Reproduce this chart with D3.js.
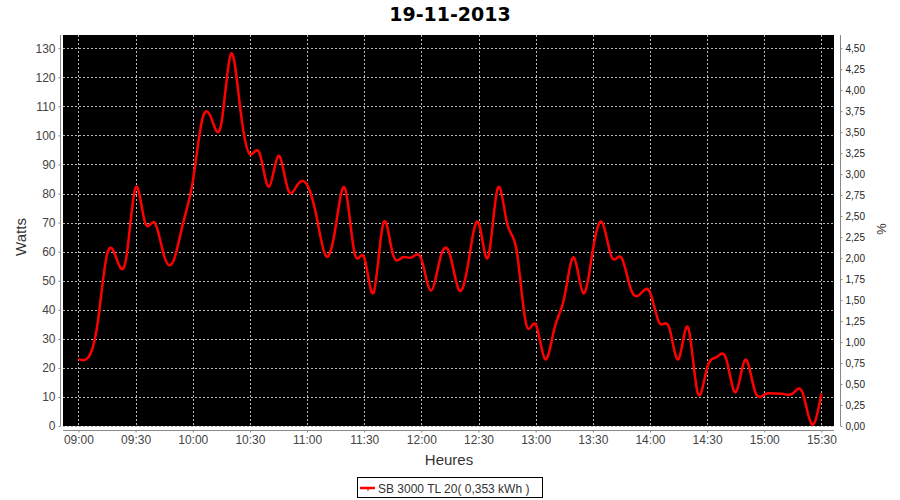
<!DOCTYPE html>
<html>
<head>
<meta charset="utf-8">
<script src="https://cdn.jsdelivr.net/npm/d3@7/dist/d3.min.js"></script>
<style>
  html, body { margin: 0; padding: 0; background: #ffffff; }
  svg { display: block; }
</style>
</head>
<body>
<svg id="chart" width="900" height="500"></svg>
<script>
// ---------- data ----------
const title = "19-11-2013";
const seriesName = "SB 3000 TL 20( 0,353 kWh )";
const xLabel = "Heures";
const yLabel = "Watts";
const y2Label = "%";

const times = [
  "09:00","09:05","09:10","09:15","09:20","09:25","09:30","09:35","09:40","09:45","09:50","09:55",
  "10:00","10:05","10:10","10:15","10:20","10:25","10:30","10:35","10:40","10:45","10:50","10:55",
  "11:00","11:05","11:10","11:15","11:20","11:25","11:30","11:35","11:40","11:45","11:50","11:55",
  "12:00","12:05","12:10","12:15","12:20","12:25","12:30","12:35","12:40","12:45","12:50","12:55",
  "13:00","13:05","13:10","13:15","13:20","13:25","13:30","13:35","13:40","13:45","13:50","13:55",
  "14:00","14:05","14:10","14:15","14:20","14:25","14:30","14:35","14:40","14:45","14:50","14:55",
  "15:00","15:05","15:10","15:15","15:20","15:25","15:30"
];
const watts = [
  23, 23.5, 35, 59, 57.6, 57.5, 82, 70, 70, 58.5, 57, 70,
  84, 105.5, 105.5, 104, 128, 109, 93.5, 94, 82.3, 93, 81.4, 83,
  83, 72, 58.4, 68.5, 81.7, 59.3, 58, 46, 69.7, 59.3, 58, 58,
  57.5, 46.6, 58, 59, 46.6, 57.6, 70, 58, 81.7, 69.7, 60.4, 35,
  35, 23, 34, 44, 58, 45.7, 60.4, 70, 58, 58, 47, 45.5,
  46, 35.4, 34, 23, 34, 11.5, 20, 23.7, 23.1, 11.6, 22.8, 12.2,
  10.8, 11.2, 11, 11.2, 11.6, 0.5, 11.2
];
const xTickLabels = ["09:00","09:30","10:00","10:30","11:00","11:30","12:00","12:30","13:00","13:30","14:00","14:30","15:00","15:30"];
const yTicks = [0,10,20,30,40,50,60,70,80,90,100,110,120,130];
const y2Ticks = [0,0.25,0.5,0.75,1,1.25,1.5,1.75,2,2.25,2.5,2.75,3,3.25,3.5,3.75,4,4.25,4.5];

// ---------- layout ----------
const plot = { left: 63, right: 834, top: 35, bottom: 426 };
const leftAxisX = 60, rightAxisX = 840, bottomAxisY = 430;
const toMin = s => { const [h, m] = s.split(":").map(Number); return h * 60 + m - 540; };

const x = d3.scaleLinear().domain([-8.1, 396.6]).range([plot.left, plot.right]);
const y = d3.scaleLinear().domain([0, 134.55]).range([plot.bottom, plot.top]);
const y2 = d3.scaleLinear().domain([0, 134.55 * 4.5 / 130]).range([plot.bottom, plot.top]);

const svg = d3.select("#chart");
const font = "'Liberation Sans', Arial, sans-serif";
const tickColor = "#444444";
const axisColor = "#888888";

// plot background
svg.append("rect")
  .attr("x", plot.left).attr("y", plot.top)
  .attr("width", plot.right - plot.left).attr("height", plot.bottom - plot.top)
  .attr("fill", "#000000");

// grid lines
const grid = svg.append("g").attr("stroke", "#b8b8b8").attr("stroke-width", 1)
  .attr("stroke-dasharray", "2,2").attr("shape-rendering", "crispEdges");
grid.selectAll("line.v").data(xTickLabels).enter().append("line")
  .attr("x1", d => Math.round(x(toMin(d))) + 0.5).attr("x2", d => Math.round(x(toMin(d))) + 0.5)
  .attr("y1", plot.top).attr("y2", plot.bottom);
grid.selectAll("line.h").data(yTicks).enter().append("line")
  .attr("y1", d => Math.round(y(d)) + 0.5).attr("y2", d => Math.round(y(d)) + 0.5)
  .attr("x1", plot.left).attr("x2", plot.right);

// clip
svg.append("clipPath").attr("id", "clip").append("rect")
  .attr("x", plot.left).attr("y", plot.top)
  .attr("width", plot.right - plot.left).attr("height", plot.bottom - plot.top);

// series line
const pts = times.map((t, i) => [toMin(t), watts[i]]);
const line = d3.line().x(d => x(d[0])).y(d => y(d[1])).curve(d3.curveNatural);
svg.append("path").datum(pts)
  .attr("clip-path", "url(#clip)")
  .attr("d", line)
  .attr("fill", "none").attr("stroke", "#ff0000").attr("stroke-width", 2.5)
  .attr("stroke-linejoin", "round");

// axes
function styleAxis(g) {
  g.selectAll(".domain").attr("stroke", axisColor);
  g.selectAll(".tick line").attr("stroke", axisColor);
  g.selectAll(".tick text").attr("fill", tickColor).style("font-family", font).style("font-size", "12px");
}
const yAxisG = svg.append("g").attr("transform", `translate(${leftAxisX + 0.5},0)`)
  .call(d3.axisLeft(y).tickValues(yTicks).tickSize(2).tickSizeOuter(0).tickPadding(3));
styleAxis(yAxisG);
yAxisG.select(".domain").attr("d", `M0,${plot.top}V${plot.bottom}`);

const y2AxisG = svg.append("g").attr("transform", `translate(${rightAxisX + 0.5},0)`)
  .call(d3.axisRight(y2).tickValues(y2Ticks).tickSize(2).tickSizeOuter(0).tickPadding(3)
    .tickFormat(d => d3.format(".2f")(d).replace(".", ",")));
styleAxis(y2AxisG);
y2AxisG.selectAll(".tick text").style("font-size", "10px").attr("fill", "#222");
y2AxisG.select(".domain").attr("d", `M0,${plot.top}V${plot.bottom}`);

const xAxisG = svg.append("g").attr("transform", `translate(0,${bottomAxisY + 0.5})`)
  .call(d3.axisBottom(x).tickValues(xTickLabels.map(toMin)).tickSize(2).tickSizeOuter(0).tickPadding(3)
    .tickFormat((d, i) => xTickLabels[i]));
styleAxis(xAxisG);
xAxisG.select(".domain").attr("d", `M${plot.left},0H${plot.right}`);

// title
svg.append("text").attr("x", 450).attr("y", 21).attr("text-anchor", "middle")
  .style("font-family", "'DejaVu Sans', sans-serif").style("font-weight", "bold").style("font-size", "19px")
  .attr("fill", "#000").text(title);

// axis labels
svg.append("text").attr("transform", "translate(26,237) rotate(-90)").attr("text-anchor", "middle")
  .style("font-family", font).style("font-size", "15px").attr("fill", "#333").text(yLabel);
svg.append("text").attr("transform", "translate(877,229) rotate(90)").attr("text-anchor", "middle")
  .style("font-family", font).style("font-size", "13px").attr("fill", "#333").text(y2Label);
svg.append("text").attr("x", 449).attr("y", 465).attr("text-anchor", "middle")
  .style("font-family", font).style("font-size", "15px").attr("fill", "#333").text(xLabel);

// legend
const lg = svg.append("g");
lg.append("rect").attr("x", 357.5).attr("y", 477.5).attr("width", 185).attr("height", 20)
  .attr("fill", "#fff").attr("stroke", "#000").attr("stroke-width", 1);
lg.append("line").attr("x1", 360).attr("x2", 375).attr("y1", 488).attr("y2", 488)
  .attr("stroke", "#ff0000").attr("stroke-width", 2.5);
lg.append("line").attr("x1", 368).attr("x2", 368).attr("y1", 488).attr("y2", 491)
  .attr("stroke", "#ff0000").attr("stroke-width", 1);
lg.append("text").attr("x", 378).attr("y", 492.5)
  .style("font-family", font).style("font-size", "12px").attr("fill", "#333").text(seriesName);
</script>
</body>
</html>
